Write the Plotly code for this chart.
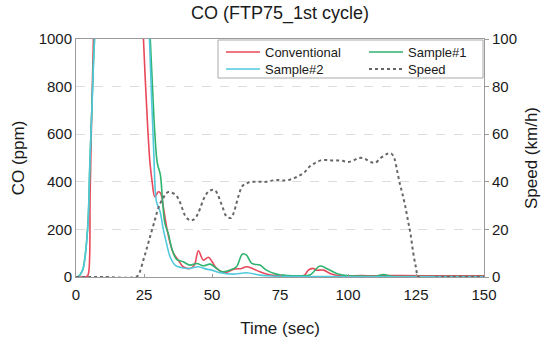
import plotly.graph_objects as go

# ---- data ----
conv_t = [0, 2, 4, 4.6, 5.2, 5.8, 6.4, 7, 10, 15, 20, 24, 24.8, 25.6, 26.4, 27.2, 28, 29,
          30.3, 31.1, 32.1, 33.3, 34.6, 35.8, 37.6, 39.4, 41.9, 43.5, 45, 46.8, 48.7, 50,
          51.7, 53.6, 55.5, 57.8, 60.9, 62.7, 65, 67.6, 71.6, 75, 80, 84, 85.4, 87.2, 88.4,
          91, 93.4, 97, 100, 105, 110, 113, 115, 120, 130, 140, 150]
conv_v = [0, 0, 2, 15, 350, 700, 1000, 1300, 1500, 1500, 1500, 1300, 1000, 800, 620, 480, 400, 337,
          358, 352, 295, 211, 143, 100, 71, 43, 36, 50, 110, 71, 83, 65,
          36, 22, 20, 32, 36, 43, 35, 22, 8, 6, 5, 8, 29, 36, 29,
          29, 15, 5, 5, 6, 5, 8, 6, 6, 5, 5, 5]

s1_t = [0, 0.9, 2.5, 3.3, 3.9, 4.5, 5.1, 5.8, 6.4, 6.8, 7.5, 10, 20, 25, 26.5, 27.3, 28.2, 29,
        29.9, 31, 31.8, 32.7, 34, 35.2, 37, 39.4, 41.9, 44.4, 46.8, 49.3, 51.7, 53.6, 56.6,
        59, 61.2, 62.7, 64.6, 67.6, 70, 73.7, 78, 82, 86, 89.7, 92.1, 95.8, 99.5, 105, 110,
        113, 116, 120, 130, 140, 150]
s1_v = [0, 2, 32, 85, 150, 250, 480, 700, 900, 1000, 1300, 1500, 1500, 1400, 1200, 1000, 780, 600,
        478, 430, 323, 225, 180, 120, 74, 64, 50, 57, 47, 54, 36, 22, 29,
        43, 97, 92, 57, 50, 29, 12, 6, 5, 8, 46, 36, 15, 6, 4, 3,
        10, 3, 2, 2, 2, 2]

s2_t = [0, 0.9, 2.5, 3.3, 3.9, 4.5, 5.1, 5.8, 6.4, 6.8, 7.5, 10, 20, 25, 26.5, 27.0, 27.8, 28.6,
        29.6, 30.9, 32.1, 33.3, 34.6, 36.4, 38.8, 41.9, 45, 48, 50, 52.9, 57.8, 62.7, 67.6,
        72, 80, 90, 100, 110, 120, 130, 140, 150]
s2_v = [0, 2, 30, 80, 145, 245, 470, 690, 890, 1000, 1300, 1500, 1500, 1400, 1150, 1000, 750, 520,
        316, 275, 200, 140, 85, 50, 39, 36, 43, 33, 29, 18, 12, 18, 8,
        4, 2, 2, 1, 1, 1, 1, 1, 1]

spd_t = [0, 10, 22, 23, 25, 27, 29, 30, 31, 32, 33, 34, 35, 36, 37, 38, 39, 40, 41, 42, 43, 44,
         45, 46, 47, 48, 49, 50, 51, 52, 53, 54, 55, 56, 57, 58, 59, 60, 61, 62, 63, 64, 66,
         68, 70, 72, 74, 76, 78, 80, 82, 84, 86, 88, 90, 92, 94, 96, 98, 100, 102, 104, 106,
         108, 110, 112, 114, 115, 116, 117, 118, 119, 120, 121, 122, 123, 124, 125, 126, 135, 150]
spd_v = [0, 0, 0, 1, 8, 16, 24, 28, 31, 33, 35, 35.7, 35.5, 35, 34, 32, 29, 26, 24.5, 23.7, 24, 25,
         27, 30, 33, 35, 36.3, 36.6, 36.5, 35, 32, 29, 26, 25, 24.8, 27, 31, 35, 38, 39, 39.5, 40, 40,
         40, 40, 40.5, 40.8, 40.5, 40.7, 41.5, 42.5, 44, 46.5, 48, 49, 49.2, 49, 49, 48.8, 48.3, 49, 50, 49.8,
         48.5, 48, 50, 51.5, 52, 51.8, 50, 45, 39.5, 35, 30, 24, 18, 10, 4, 0, 0, 0]

x_ticks = [0, 25, 50, 75, 100, 125, 150]

TXT = "#1a1a1a"
AX = "#9a9a9a"
FONT = "Liberation Sans, Arial, sans-serif"

# plot area in pixels (for legend / box placement)
PL, PR, PT, PB = 76, 484, 39, 277
PW, PH = PR - PL, PB - PT


def px_x(p):
    return (p - PL) / PW


def px_y(p):
    return (PB - p) / PH


fig = go.Figure()
fig.add_trace(go.Scatter(x=conv_t, y=conv_v, name="Conventional", mode="lines", legend="legend",
                         line=dict(color="#e8485a", width=1.6), line_shape="spline"))
fig.add_trace(go.Scatter(x=s1_t, y=s1_v, name="Sample#1", mode="lines", legend="legend2",
                         line=dict(color="#2fb36e", width=1.6), line_shape="spline"))
fig.add_trace(go.Scatter(x=s2_t, y=s2_v, name="Sample#2", mode="lines", legend="legend3",
                         line=dict(color="#52c8dc", width=1.6), line_shape="spline"))
fig.add_trace(go.Scatter(x=spd_t, y=spd_v, name="Speed", mode="lines", yaxis="y2", legend="legend4",
                         line=dict(color="#666666", width=2, dash="dot"), line_shape="spline"))

leg_common = dict(orientation="v", yanchor="top", xanchor="left", bgcolor="rgba(0,0,0,0)",
                  borderwidth=0, font=dict(size=13, color=TXT), tracegroupgap=0, itemwidth=34)

ROW1, ROW2 = 37, 54
COL1, COL2 = 221, 364

fig.update_layout(
    width=541, height=343,
    margin=dict(l=PL, r=541 - PR, t=PT, b=343 - PB),
    paper_bgcolor="white", plot_bgcolor="white",
    font=dict(family=FONT, color=TXT, size=15),
    title=dict(text="CO (FTP75_1st cycle)", x=0.5, xref="paper", y=1 - 13 / 343,
               yanchor="middle", xanchor="center", font=dict(size=18, color=TXT)),
    xaxis=dict(range=[0, 150], tickvals=x_ticks, showgrid=False, zeroline=False,
               showline=True, linecolor=AX, linewidth=1, mirror=True, automargin=False,
               ticks="inside", ticklen=3, tickcolor=AX, ticklabelstandoff=4,
               tickfont=dict(size=15, color=TXT),
               title=dict(text="Time (sec)", font=dict(size=17, color=TXT), standoff=20)),
    yaxis=dict(range=[0, 1000], dtick=200, showgrid=True, gridcolor="#dcdcdc",
               griddash="dash", gridwidth=1, zeroline=False, automargin=False,
               showline=True, linecolor=AX, linewidth=1,
               tickfont=dict(size=15, color=TXT),
               title=dict(text="CO (ppm)", font=dict(size=17, color=TXT), standoff=9)),
    yaxis2=dict(range=[0, 100], dtick=20, overlaying="y", side="right", showgrid=False,
                zeroline=False, showline=True, linecolor=AX, linewidth=1, automargin=False,
                ticks="outside", ticklen=4, tickcolor=AX,
                tickfont=dict(size=15, color=TXT),
                title=dict(text="Speed (km/h)", font=dict(size=17, color=TXT), standoff=10)),
    legend=dict(x=px_x(COL1), y=px_y(ROW1), **leg_common),
    legend2=dict(x=px_x(COL2), y=px_y(ROW1), **leg_common),
    legend3=dict(x=px_x(COL1), y=px_y(ROW2), **leg_common),
    legend4=dict(x=px_x(COL2), y=px_y(ROW2), **leg_common),
    shapes=[dict(type="rect", xref="paper", yref="paper",
                 x0=px_x(218), x1=px_x(483), y0=px_y(78), y1=px_y(40),
                 line=dict(color="#aaaaaa", width=1), fillcolor="white", layer="above")],
    showlegend=True,
)

fig.write_html("out.html")
